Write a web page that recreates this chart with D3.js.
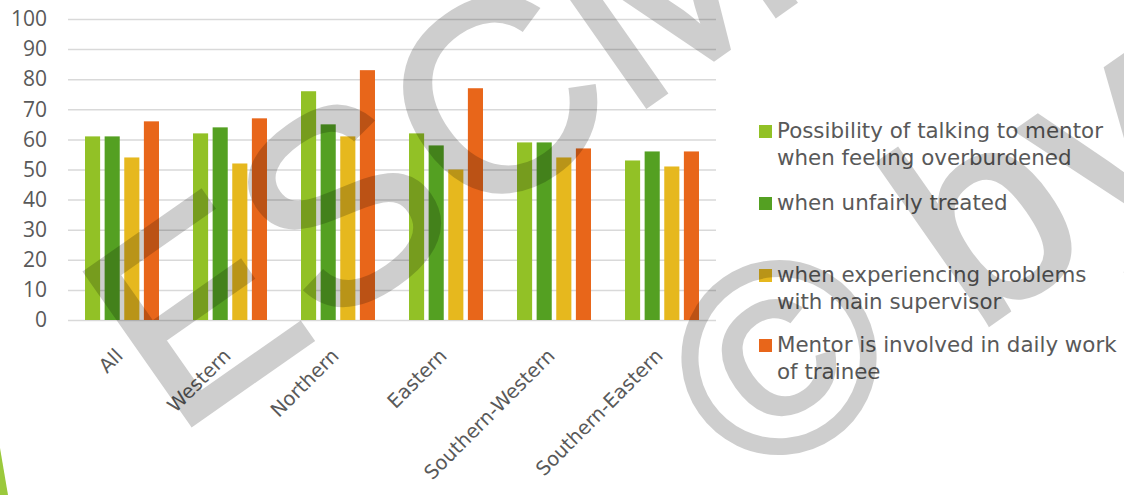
<!DOCTYPE html>
<html><head><meta charset="utf-8">
<script src="https://cdn.jsdelivr.net/npm/d3@7"></script>
<style>body{margin:0;background:#fff;overflow:hidden}</style>
</head><body><svg id="c" width="1124" height="495"></svg>
<script>
const categories = ["All", "Western", "Northern", "Eastern", "Southern-Western", "Southern-Eastern"];
const seriesNames = [
  "Possibility of talking to mentor when feeling overburdened",
  "when unfairly treated",
  "when experiencing problems with main supervisor",
  "Mentor is involved in daily work of trainee"
];
const legendLines = [
  ["Possibility of talking to mentor", "when feeling overburdened"],
  ["when unfairly treated"],
  ["when experiencing problems", "with main supervisor"],
  ["Mentor is involved in daily work", "of trainee"]
];
const overburdened = [61, 62, 76, 62, 59, 53];
const unfairlyTreated = [61, 64, 65, 58, 59, 56];
const supervisorProblems = [54, 52, 61, 50, 54, 51];
const dailyWork = [66, 67, 83, 77, 57, 56];
const yTicks = [0, 10, 20, 30, 40, 50, 60, 70, 80, 90, 100];
const colors = ["#92C126", "#54A022", "#E6B81E", "#E8661A"];

const seriesValues = [overburdened, unfairlyTreated, supervisorProblems, dailyWork];
const svg = d3.select("#c");
const textColor = "#595959";

const plotLeft = 68, plotRight = 716, plotTop = 19, plotBottom = 320;
const x0 = d3.scaleBand().domain(categories).range([plotLeft, plotRight]).paddingInner(0.315).paddingOuter(0.1575);
const x1 = d3.scaleBand().domain(d3.range(seriesNames.length)).range([0, x0.bandwidth()]).paddingInner(0.23);
const y = d3.scaleLinear().domain([0, 100]).range([plotBottom, plotTop]);

// decorative slide corner
svg.append("path").attr("d", "M0,448 L8,495 L0,495 Z").attr("fill", "#9BC93C");

// y axis with gridlines
const yAxis = svg.append("g").attr("transform", `translate(${plotLeft},0)`)
  .call(d3.axisLeft(y).tickValues(yTicks).tickSize(-(plotRight - plotLeft)).tickPadding(21));
yAxis.select(".domain").remove();
yAxis.selectAll(".tick line").attr("stroke", "#D9D9D9").attr("stroke-width", 1.5);
yAxis.selectAll(".tick text").attr("fill", textColor)
  .style("font-family", "'Open Sans', sans-serif").style("font-size", "21px");

// bars
const groups = svg.append("g").selectAll("g").data(categories).join("g")
  .attr("transform", d => `translate(${x0(d)},0)`);
groups.selectAll("rect")
  .data((c, ci) => seriesValues.map((vals, si) => ({si, v: vals[ci]})))
  .join("rect")
  .attr("x", d => x1(d.si))
  .attr("width", x1.bandwidth())
  .attr("y", d => y(d.v))
  .attr("height", d => y(0) - y(d.v))
  .attr("fill", d => colors[d.si]);

// x labels
svg.append("g").selectAll("text").data(categories).join("text")
  .attr("transform", d => `translate(${x0(d) + x0.bandwidth() / 2 + 2},357) rotate(-45)`)
  .attr("text-anchor", "end")
  .attr("fill", textColor)
  .style("font-family", "'DejaVu Sans', sans-serif").style("font-size", "19.5px")
  .text(d => d);

// legend
const legendBase = [138, 210, 282, 352];
const lg = svg.append("g");
legendLines.forEach((lines, i) => {
  lg.append("rect").attr("x", 759).attr("y", legendBase[i] - 13).attr("width", 13).attr("height", 13)
    .attr("fill", colors[i]);
  const t = lg.append("text").attr("x", 777).attr("y", legendBase[i]).attr("fill", textColor)
    .style("font-family", "'DejaVu Sans', sans-serif").style("font-size", "21.4px");
  lines.forEach((ln, j) => t.append("tspan").attr("x", 777).attr("dy", j === 0 ? 0 : 26.5).text(ln));
});

// watermark
const wm = svg.append("g").attr("opacity", 0.19).attr("fill", "#000")
  .attr("stroke", "#000").attr("stroke-width", 4.5).attr("stroke-linejoin", "miter")
  .style("font-family", "'Liberation Sans', Arial, sans-serif").style("font-size", "270px");
wm.append("text").attr("transform", "translate(174,437) rotate(-35)").text("ESCMID eLibrary");
wm.append("text").attr("transform", "translate(751,491) rotate(-35)").text("© by author");
</script></body></html>
